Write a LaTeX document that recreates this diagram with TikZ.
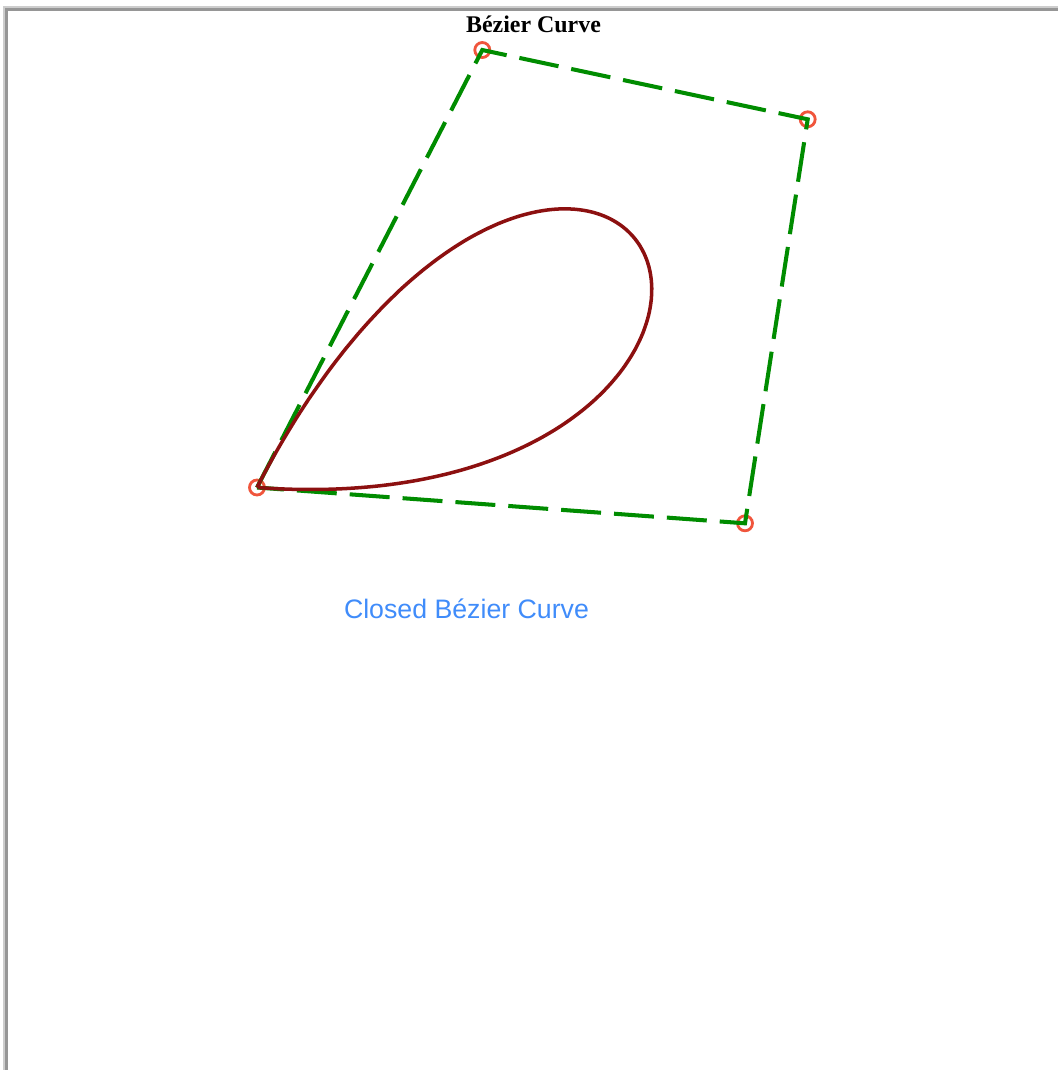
\documentclass[tikz,border=0pt]{standalone}
\usepackage{fontspec}
\setmainfont{Liberation Serif}
\newfontfamily\labelfont{Liberation Sans}
\usepackage{tikz}
\usetikzlibrary{calc}
\definecolor{framegray}{RGB}{150,150,150}
\definecolor{framelight}{RGB}{205,205,205}
\definecolor{polygreen}{RGB}{0,140,0}
\definecolor{curvered}{RGB}{140,16,16}
\definecolor{pointred}{RGB}{240,85,60}
\definecolor{labelblue}{RGB}{64,140,250}

\tikzset{
  ctrlpoint/.style={circle, draw=pointred, line width=0.8pt, fill=white, inner sep=0pt, minimum size=0.15cm},
  hull/.style={draw=polygreen, line width=1.15pt, dash pattern=on 0.40cm off 0.13cm},
  beziercurve/.style={draw=curvered, line width=1pt}
}

\begin{document}
\begin{tikzpicture}
  \useasboundingbox (0,0) rectangle (10.58,-10.70);
  % window frame
  \fill[framelight] (0.03,-0.06) rectangle (10.58,-0.11);
  \fill[framegray] (0.04,-0.08) rectangle (10.58,-0.11);
  \fill[framelight] (0.03,-0.06) rectangle (0.08,-10.70);
  \fill[framegray] (0.05,-0.08) rectangle (0.08,-10.70);

  \node[font=\fontsize{6.8}{8}\selectfont\bfseries] (title) at (5.335,-0.245) {Bézier Curve};

  % control points
  \node[ctrlpoint] (p0) at (2.57,-4.875) {};
  \node[ctrlpoint] (p1) at (4.823,-0.50) {};
  \node[ctrlpoint] (p2) at (8.077,-1.193) {};
  \node[ctrlpoint] (p3) at (7.45,-5.233) {};

  % control polygon
  \draw[hull] (p0.center) -- (p1.center) -- (p2.center) -- (p3.center) -- (p0.center);

  % closed quartic curve p0 p1 p2 p3 p0
  \draw[beziercurve] plot[domain=0:1, samples=160, variable=\t, smooth]
    ({(1-\t)^4*2.57 + 4*(1-\t)^3*\t*4.823 + 6*(1-\t)^2*\t^2*8.077 + 4*(1-\t)*\t^3*7.45 + \t^4*2.57},
     {(1-\t)^4*(-4.875) + 4*(1-\t)^3*\t*(-0.50) + 6*(1-\t)^2*\t^2*(-1.193) + 4*(1-\t)*\t^3*(-5.233) + \t^4*(-4.875)});

  \node[font=\labelfont\fontsize{7.6}{9}\selectfont, text=labelblue] (caption) at (4.665,-6.09) {Closed Bézier Curve};
\end{tikzpicture}
\end{document}
